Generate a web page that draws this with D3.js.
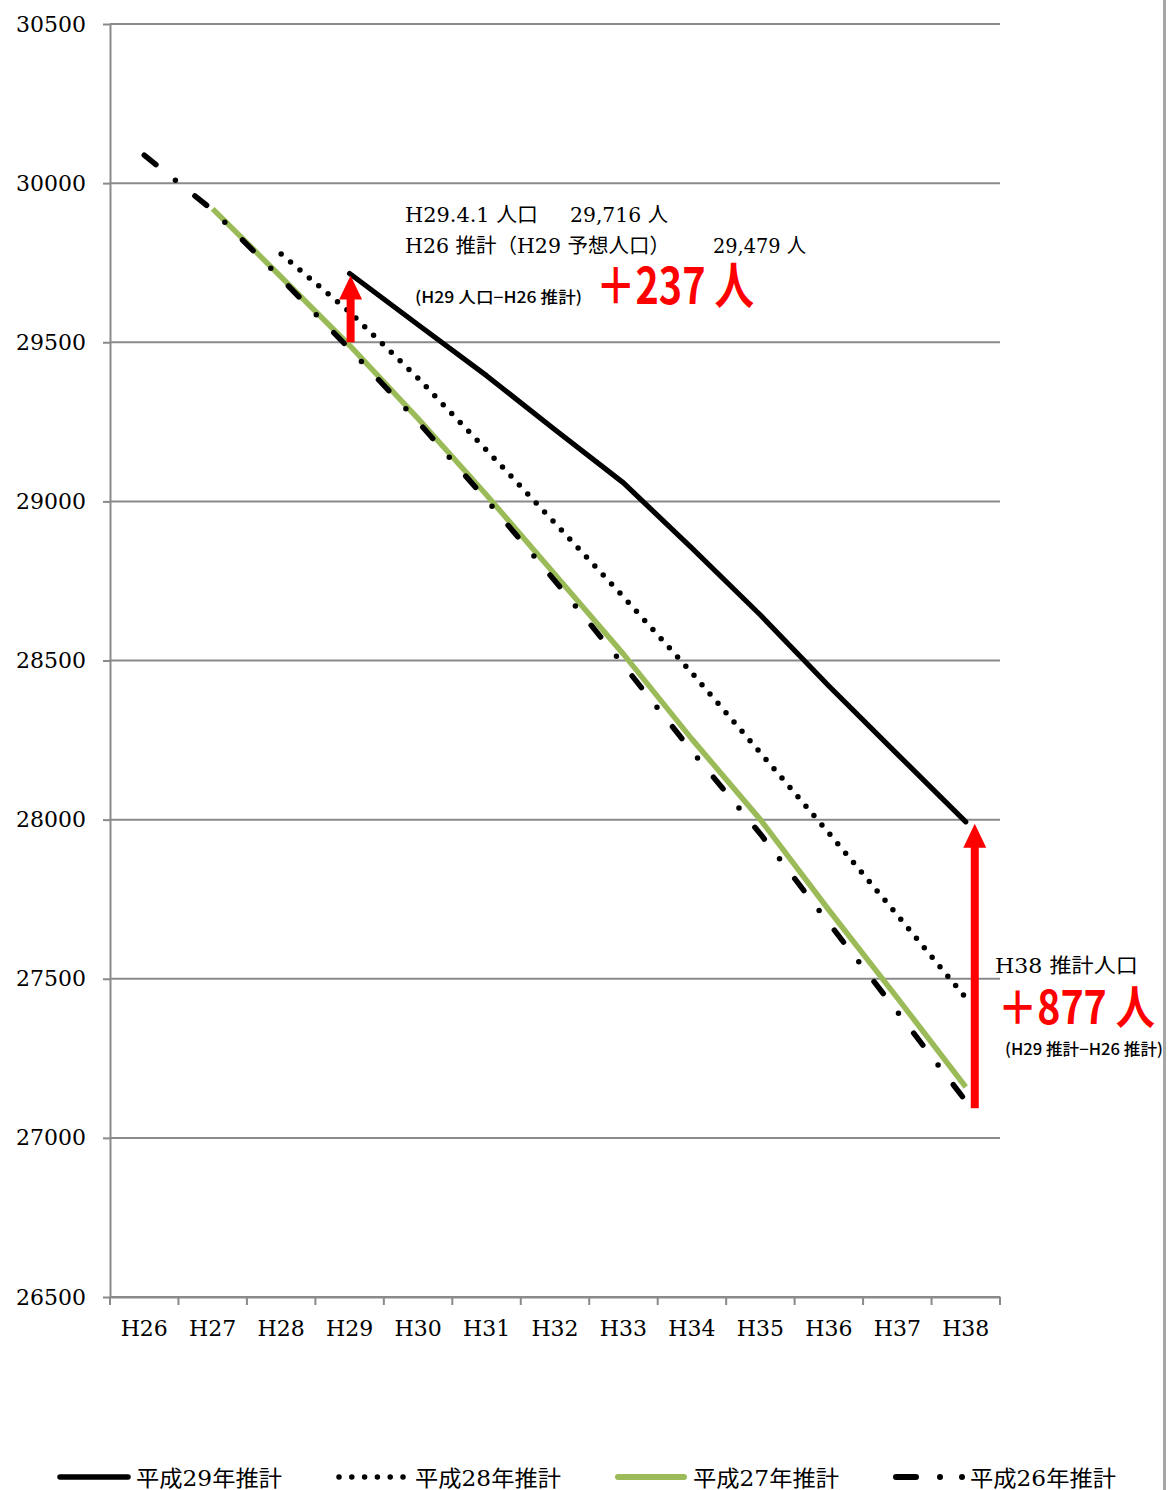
<!DOCTYPE html>
<html>
<head>
<meta charset="utf-8">
<script src="https://cdn.jsdelivr.net/npm/d3@7"></script>
<style>
  body { margin: 0; background: #fff; }
  svg { display: block; }
</style>
</head>
<body>
<div id="chart"></div>
<script>
  // data
  var categories = ["H26","H27","H28","H29","H30","H31","H32","H33","H34","H35","H36","H37","H38"];
  var h29 = [null,null,null,29716,29555,29395,29225,29058,28853,28643,28420,28206,27993];
  var h28 = [null,null,29777,29595,29387,29161,28932,28700,28461,28210,27958,27700,27440];
  var h27 = [null,29919,29705,29490,29260,29020,28770,28520,28253,28000,27716,27440,27160];
  var h26 = [30088,29915,29700,29479,29250,29005,28750,28486,28215,27955,27675,27396,27116];
  var yTicks = [26500,27000,27500,28000,28500,29000,29500,30000,30500];
  var legendLabels = ["平成29年推計","平成28年推計","平成27年推計","平成26年推計"];

  var width = 1169, height = 1490;
  var margin = {top: 24, left: 110, right: 169, bottom: 193};

  var serif = "'DejaVu Serif', 'Noto Sans CJK JP', serif";
  var gothic = "'Noto Sans CJK JP', 'DejaVu Sans', sans-serif";
  var gridColor = "#8a8a8a";

  var svg = d3.select("#chart").append("svg")
      .attr("width", width)
      .attr("height", height);

  var x = d3.scaleBand()
      .domain(categories)
      .range([margin.left, width - margin.right])
      .padding(0);
  var y = d3.scaleLinear()
      .domain([26500, 30500])
      .range([height - margin.bottom, margin.top]);
  var xc = function(c) { return x(c) + x.bandwidth() / 2; };

  // gridlines
  svg.append("g")
    .selectAll("line")
    .data(yTicks)
    .enter().append("line")
      .attr("x1", margin.left).attr("x2", width - margin.right)
      .attr("y1", function(d) { return y(d); })
      .attr("y2", function(d) { return y(d); })
      .attr("stroke", gridColor)
      .attr("stroke-width", 2);

  // y axis
  var yAxis = svg.append("g")
      .attr("transform", "translate(" + margin.left + ",0)")
      .call(d3.axisLeft(y).tickValues(yTicks).tickSize(7).tickSizeOuter(0).tickPadding(17)
        .tickFormat(d3.format("d")));
  yAxis.selectAll("path, line").attr("stroke", gridColor).attr("stroke-width", 2);
  yAxis.selectAll("text")
      .attr("font-family", serif).attr("font-size", 22).attr("fill", "#000");

  // x axis, labels at band centres, ticks at band edges
  var xAxis = svg.append("g")
      .attr("transform", "translate(0," + y(26500) + ")")
      .call(d3.axisBottom(x).tickSize(0).tickPadding(23));
  xAxis.select(".domain").attr("stroke", gridColor).attr("stroke-width", 2);
  xAxis.selectAll("text")
      .attr("font-family", serif).attr("font-size", 22).attr("fill", "#000");
  var edges = categories.map(function(c) { return x(c); }).concat([x.range()[1]]);
  xAxis.selectAll(".edge")
    .data(edges)
    .enter().append("line")
      .attr("class", "edge")
      .attr("x1", function(d) { return d; }).attr("x2", function(d) { return d; })
      .attr("y1", 0).attr("y2", 8)
      .attr("stroke", gridColor).attr("stroke-width", 2);

  // series lines
  var line = d3.line()
      .defined(function(d) { return d.v != null; })
      .x(function(d) { return xc(d.c); })
      .y(function(d) { return y(d.v); });
  function pts(arr) { return categories.map(function(c, i) { return {c: c, v: arr[i]}; }); }

  var series = [
    {vals: h27, color: "#9bbb59", width: 5.5, dash: null, cap: "butt"},
    {vals: h26, color: "#000", width: 5.5, dash: "15 25 0 25", cap: "round"},
    {vals: h28, color: "#000", width: 5.5, dash: "0 12.3", cap: "round"},
    {vals: h29, color: "#000", width: 5.2, dash: null, cap: "round"}
  ];
  svg.append("g")
    .selectAll("path")
    .data(series)
    .enter().append("path")
      .attr("d", function(d) { return line(pts(d.vals)); })
      .attr("fill", "none")
      .attr("stroke", function(d) { return d.color; })
      .attr("stroke-width", function(d) { return d.width; })
      .attr("stroke-dasharray", function(d) { return d.dash; })
      .attr("stroke-linecap", function(d) { return d.cap; })
      .attr("stroke-linejoin", "round");

  // red arrows (difference markers)
  var arrows = [
    {c: "H29", from: 29500, to: 29716, dx: 1},
    {c: "H38", from: 27093, to: 27993, dx: 9}
  ];
  svg.append("g")
    .selectAll("path")
    .data(arrows)
    .enter().append("path")
      .attr("fill", "#ff0000")
      .attr("d", function(d) {
        var cx = xc(d.c) + d.dx, yb = y(d.from), yt = y(d.to) + 2, hh = 24, hw = 11.5, sw = 4;
        return "M" + (cx - sw) + "," + yb + "L" + (cx - sw) + "," + (yt + hh) +
               "L" + (cx - hw) + "," + (yt + hh) + "L" + cx + "," + yt +
               "L" + (cx + hw) + "," + (yt + hh) + "L" + (cx + sw) + "," + (yt + hh) +
               "L" + (cx + sw) + "," + yb + "Z";
      });

  // annotations
  var ann = svg.append("g").attr("fill", "#000");
  function serifText(tx, ty, s, len) {
    return ann.append("text")
        .attr("x", tx).attr("y", ty)
        .attr("font-family", serif).attr("font-size", 20.5)
        .attr("textLength", len).attr("lengthAdjust", "spacingAndGlyphs")
        .text(s);
  }
  serifText(405, 222, "H29.4.1 人口", 133);
  serifText(570, 222, "29,716 人", 98);
  serifText(405, 253, "H26 推計（H29 予想人口）", 265);
  serifText(713, 253, "29,479 人", 93);
  ann.append("text")
      .attr("x", 415).attr("y", 303)
      .attr("font-family", gothic).attr("font-size", 16).attr("font-weight", 500)
      .attr("textLength", 167).attr("lengthAdjust", "spacingAndGlyphs")
      .text("(H29 人口−H26 推計)");
  ann.append("text")
      .attr("x", 596).attr("y", 304)
      .attr("font-family", gothic).attr("font-size", 50).attr("font-weight", "bold")
      .attr("fill", "#ff0000")
      .attr("textLength", 158).attr("lengthAdjust", "spacingAndGlyphs")
      .text("＋237 人");

  serifText(995, 973, "H38 推計人口", 143);
  ann.append("text")
      .attr("x", 998).attr("y", 1024)
      .attr("font-family", gothic).attr("font-size", 46).attr("font-weight", "bold")
      .attr("fill", "#ff0000")
      .attr("textLength", 157).attr("lengthAdjust", "spacingAndGlyphs")
      .text("＋877 人");
  ann.append("text")
      .attr("x", 1005).attr("y", 1055)
      .attr("font-family", gothic).attr("font-size", 16).attr("font-weight", 500)
      .attr("textLength", 158).attr("lengthAdjust", "spacingAndGlyphs")
      .text("(H29 推計−H26 推計)");

  // frame edge on the right
  svg.append("rect")
      .attr("x", 1163).attr("y", 0)
      .attr("width", 3).attr("height", height)
      .attr("fill", "#a6a6a6");

  // legend
  var legendItems = [
    {x1: 60, x2: 128, tx: 136, color: "#000", width: 5.5, dash: null, cap: "round"},
    {x1: 339, x2: 404, tx: 415, color: "#000", width: 5.5, dash: "0 12.8", cap: "round"},
    {x1: 618, x2: 684, tx: 693, color: "#9bbb59", width: 6, dash: null, cap: "round"},
    {x1: 896, x2: 966, tx: 970, color: "#000", width: 6, dash: "20 24 0 22 0 200", cap: "round"}
  ];
  var lg = svg.append("g")
    .selectAll("g")
    .data(legendItems)
    .enter().append("g");
  lg.append("line")
      .attr("x1", function(d) { return d.x1; }).attr("x2", function(d) { return d.x2; })
      .attr("y1", 1477).attr("y2", 1477)
      .attr("stroke", function(d) { return d.color; })
      .attr("stroke-width", function(d) { return d.width; })
      .attr("stroke-dasharray", function(d) { return d.dash; })
      .attr("stroke-linecap", function(d) { return d.cap; });
  lg.append("text")
      .attr("x", function(d) { return d.tx; })
      .attr("y", 1486)
      .attr("font-family", serif).attr("font-size", 22)
      .attr("textLength", 146).attr("lengthAdjust", "spacingAndGlyphs")
      .text(function(d, i) { return legendLabels[i]; });
</script>
</body>
</html>
